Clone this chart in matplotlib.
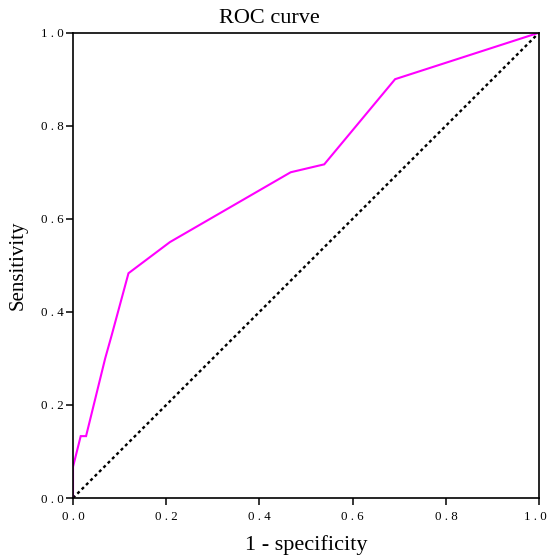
import matplotlib
matplotlib.use("Agg")
import matplotlib.pyplot as plt
from matplotlib.transforms import ScaledTranslation

plt.rcParams['font.family'] = 'Liberation Serif'

# ROC curve points
fpr = [0.0, 0.0, 0.0165, 0.028, 0.069, 0.083, 0.119, 0.208, 0.467, 0.539, 0.691, 1.0]
tpr = [0.0, 0.067, 0.133, 0.133, 0.300, 0.350, 0.483, 0.550, 0.700, 0.717, 0.900, 1.0]

ref = [0.0, 1.0]
ticks = [0.0, 0.2, 0.4, 0.6, 0.8, 1.0]
tick_labels = ["0 . 0", "0 . 2", "0 . 4", "0 . 6", "0 . 8", "1 . 0"]

fig = plt.figure(figsize=(5.49, 5.58), dpi=100)
ax = fig.add_axes([0.133, 0.1075, 0.849, 0.834])

ax.plot(ref, ref, color='black', linestyle=(0, (1.3, 1.3)), linewidth=1.7)
ax.plot(fpr, tpr, color='#ff00ff', linewidth=1.5, solid_joinstyle='miter')

ax.set_xlim(0, 1)
ax.set_ylim(0, 1)
ax.set_xticks(ticks)
ax.set_yticks(ticks)
ax.set_xticklabels(tick_labels, fontsize=9.3)
ax.set_yticklabels(tick_labels, fontsize=9.3)
ax.tick_params(axis='x', direction='out', length=5, width=1.1, pad=4)
ax.tick_params(axis='y', direction='out', length=5, width=1.1, pad=2)
for s in ax.spines.values():
    s.set_linewidth(1.2)

# last x label sits right at the figure edge, nudge it in a little
last = ax.get_xticklabels()[-1]
last.set_transform(last.get_transform() + ScaledTranslation(-3 / 72, 0, fig.dpi_scale_trans))

fig.text(0.49, 0.966, "ROC curve", fontsize=16, ha='center', va='center')
ax.set_xlabel("1 - specificity", fontsize=16, labelpad=9)
ax.set_ylabel("Sensitivity", fontsize=15, labelpad=9)

fig.savefig("out.png", dpi=100, facecolor='white')
